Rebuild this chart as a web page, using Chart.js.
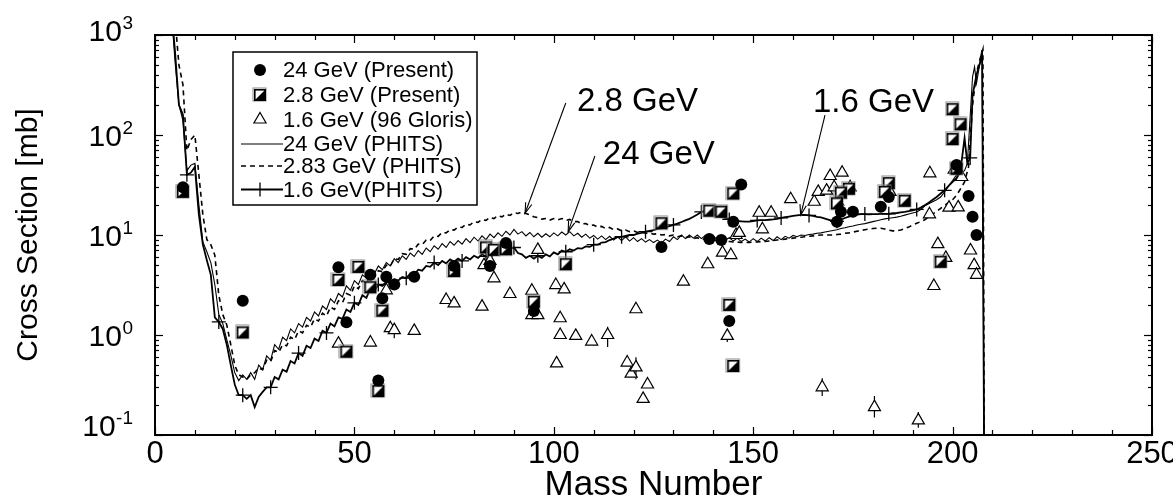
<!DOCTYPE html>
<html><head><meta charset="utf-8">
<script src="https://cdn.jsdelivr.net/npm/chart.js@4.4.1/dist/chart.umd.min.js"></script>
<style>html,body{margin:0;padding:0;background:#fff;}canvas{display:block;}</style>
</head><body>
<canvas id="c" width="1173" height="500"></canvas>
<script>
const FONT = "'Liberation Sans', Arial, Helvetica, sans-serif";

// ---- axis ticks ----
const xMajorTicks = [0, 50, 100, 150, 200, 250];
const xMinorStep = 10;
const yDecades = [0.1, 1, 10, 100, 1000];
const yExponents = ['-1', '0', '1', '2', '3'];

// ---- measured points: [mass number, cross section mb] ----
const present24 = [[7,30],[22,2.2],[46,4.75],[48,1.34],[54,4.0],[57,2.33],[56,0.35],[58,3.83],[60,3.2],[65,3.83],[75,4.9],[84,4.9],[88,8.3],[95,1.74],[127,7.6],[139,9.1],[142,8.9],[147,32],[145,13.6],[144,1.38],[172,17.1],[175,17.1],[171,13.6],[184,24],[182,19.2],[201,50],[204,24.5],[205,15.2],[206,10]];
const present28 = [[7,27],[22,1.06],[46,3.55],[51,4.8],[48,0.68],[54,3.0],[57,1.75],[56,0.275],[75,4.36],[83,7.5],[85,7.1],[88,7.2],[95,2.15],[103,5.1],[127,13.1],[139,17.5],[142,17.1],[145,26],[144,2.0],[145,0.49],[174,29],[172,26.5],[171,20.7],[184,33],[183,27],[188,22],[200,181],[202,128],[200,91],[201,46],[197,5.4]];
const gloris16 = [[46,0.82],[54,0.84],[58,2.8],[59,1.17],[60,1.12],[65,1.1],[73,2.24],[75,2.07],[82,1.92],[82.5,5.0],[84,5.5],[85,3.69],[89,2.57],[94.5,2.77],[94.5,1.58],[96,1.58],[96,7.1],[100.5,3.16],[102.6,2.86],[101.6,1.47],[101.6,1.0],[100.7,0.52],[105.5,0.98],[109.5,0.86],[113.5,1.0],[118.4,0.53],[119.4,0.41],[120.6,0.475],[120.6,1.81],[122.4,0.23],[123.5,0.32],[132.5,3.41],[138.6,5.1],[142.3,6.65],[144.4,6.3],[143.5,0.98],[145.7,10],[146.5,10.5],[151.5,16.7],[154.5,16.7],[152.3,11.4],[159.4,22.8],[165.3,21.5],[166.3,27],[168.4,27.8],[169.3,38.9],[172.3,42],[170.3,30],[171.2,21.5],[174.3,30],[184.3,27],[194.3,41.4],[194.2,16.1],[196.3,8.1],[198.3,5.9],[195.3,3.09],[199.1,18.8],[201.4,18.9],[200.4,45],[202.3,38],[204.5,7.0],[205.4,5.0],[206,4.0],[167.3,0.30],[180.4,0.19],[191.4,0.14]];
// error bars of the 1.6 GeV data: [mass, low, high]
const gloris16Err = [[60,0.93,1.26],[113.5,0.76,1.21],[120.6,0.36,0.6],[143.5,0.85,1.12],[167.3,0.245,0.37],[180.4,0.15,0.245],[191.4,0.118,0.17]];

// ---- PHITS calculations: [mass, cross section mb] ----
const phits24 = [[4,2000],[5,560],[6,200],[7,140],[8,44],[9,50],[10,52],[11,20],[12,8.5],[13,6.8],[14,5.3],[15,3.2],[16,1.6],[17,1.3],[18,0.9],[19,0.63],[20,0.42],[21,0.35],[22,0.4],[23,0.36],[24,0.42],[25,0.36],[26,0.5],[27,0.45],[28,0.62],[29,0.56],[30,0.8],[31,0.72],[32,0.95],[33,0.88],[34,1.15],[35,1.05],[36,1.3],[37,1.2],[38,1.5],[39,1.38],[40,1.7],[41,1.55],[42,1.95],[43,1.8],[44,2.3],[45,2.1],[46,2.6],[47,2.4],[48,3.1],[49,2.8],[50,3.5],[51,3.2],[52,4.0],[53,3.7],[54,4.5],[55,4.1],[56,4.9],[57,4.5],[58,5.3],[59,4.9],[60,5.8],[61,5.3],[62,6.2],[63,5.7],[64,6.6],[65,6.1],[66,7.0],[67,6.4],[68,7.4],[69,6.8],[70,7.8],[71,7.2],[72,8.2],[73,7.5],[74,8.6],[75,7.9],[76,8.8],[77,8.1],[78,9.2],[79,8.4],[80,9.5],[81,8.7],[82,9.8],[83,9.0],[84,10.2],[85,9.4],[86,10.5],[87,9.7],[88,10.9],[89,10.0],[90,11.4],[91,10.2],[92,10.8],[93,9.8],[94,10.6],[95,9.6],[96,10.4],[97,9.5],[98,10.3],[99,9.6],[100,10.5],[101,9.8],[102,10.7],[103,10.0],[104,10.8],[105,9.8],[106,10.4],[107,9.5],[108,10.2],[109,9.3],[110,9.9],[111,9.1],[112,9.8],[113,9.0],[114,9.7],[115,8.9],[116,9.6],[117,8.8],[118,9.6],[119,8.7],[120,9.4],[121,8.6],[122,9.2],[123,8.5],[124,9.0],[125,8.4],[126,8.9],[127,8.3],[128,9.1],[129,8.6],[130,9.6],[131,9.0],[132,10.0],[133,9.2],[134,10.0],[135,9.3],[136,10.0],[137,9.2],[138,9.9],[139,9.1],[140,9.8],[141,9.0],[142,9.6],[143,8.9],[144,9.4],[145,8.7],[146,9.3],[147,8.6],[148,9.1],[149,8.5],[150,9.2],[151,8.6],[152,9.3],[153,8.7],[154,9.4],[155,8.8],[156,9.6],[157,9.0],[158,9.7],[159,9.3],[160,9.9],[161,9.6],[162,10.0],[163,9.9],[164,10.1],[165,10.2],[166,10.4],[167,10.5],[168,10.7],[169,10.9],[170,11.1],[171,11.3],[172,11.6],[173,11.8],[174,12.1],[175,12.3],[176,12.6],[177,12.8],[178,13.0],[179,13.3],[180,13.6],[181,13.9],[182,14.2],[183,14.5],[184,14.7],[185,14.9],[186,15.1],[187,15.4],[188,15.8],[189,16.2],[190,16.6],[191,17.0],[192,18.0],[193,19.5],[194,20.5],[195,21.5],[196,22.5],[197,24],[198,27],[199,31],[200,35],[201,40],[202,42],[203,44],[203.7,52],[205,380],[205.5,480],[206,330],[207.4,708],[208,0.01]];
const phits283 = [[4,5000],[5,1500],[6,500],[7,320],[8,70],[9,90],[10,100],[11,40],[12,16],[13,9],[14,8],[15,6.3],[16,2.5],[17,1.6],[18,1.26],[19,0.8],[20,0.5],[21,0.4],[22,0.38],[23,0.36],[24,0.4],[25,0.42],[26,0.47],[27,0.45],[28,0.56],[29,0.54],[30,0.7],[31,0.67],[32,0.8],[33,0.78],[34,0.95],[35,0.9],[36,1.1],[37,1.05],[38,1.25],[39,1.2],[40,1.45],[41,1.38],[42,1.65],[43,1.55],[44,1.9],[45,1.8],[46,2.2],[47,2.1],[48,2.6],[49,2.5],[50,3.1],[51,2.9],[52,3.5],[53,3.3],[54,4.0],[55,3.8],[56,4.4],[57,4.3],[58,5.0],[59,4.9],[60,5.8],[61,5.7],[62,6.5],[63,6.4],[64,7.3],[65,7.2],[66,8.1],[67,8.0],[68,8.9],[69,8.8],[70,9.8],[71,9.7],[72,10.6],[73,10.5],[74,11.3],[75,11.2],[76,12.0],[77,11.9],[78,12.8],[79,12.6],[80,13.6],[81,13.4],[82,14.3],[83,14.0],[84,15.0],[85,14.6],[86,15.6],[87,15.2],[88,16.2],[89,15.7],[90,16.7],[91,16.4],[92,17.0],[93,16.4],[94,15.9],[95,15.2],[96,14.9],[97,14.4],[98,14.6],[99,14.1],[100,14.6],[101,14.2],[102,14.6],[103,14.0],[104,14.3],[105,13.6],[106,13.6],[107,12.9],[108,13.0],[109,12.4],[110,12.6],[111,12.0],[112,12.2],[113,11.6],[114,11.9],[115,11.3],[116,11.5],[117,11.0],[118,11.2],[119,10.8],[120,11.0],[121,10.6],[122,10.7],[123,10.4],[124,10.5],[125,10.2],[126,10.3],[127,10.0],[128,10.1],[129,9.8],[130,10.0],[131,9.6],[132,9.8],[133,9.4],[134,9.6],[135,9.2],[136,9.4],[137,9.0],[138,9.2],[139,8.8],[140,9.0],[141,8.7],[142,8.8],[143,8.6],[144,8.6],[145,8.5],[146,8.5],[147,8.4],[148,8.4],[149,8.4],[150,8.5],[151,8.5],[152,8.6],[153,8.6],[154,8.7],[155,8.8],[156,8.9],[157,9.0],[158,9.1],[159,9.2],[160,9.3],[161,9.4],[162,9.5],[163,9.6],[164,9.7],[165,9.8],[166,9.9],[167,10.0],[168,10.0],[169,10.0],[170,10.0],[171,10.1],[172,10.2],[173,10.4],[174,10.5],[175,10.7],[176,10.9],[177,11.1],[178,11.3],[179,11.5],[180,11.6],[181,11.7],[182,11.7],[183,11.5],[184,11.2],[185,11.0],[186,11.0],[187,11.2],[188,11.6],[189,12.0],[190,12.6],[191,13.1],[192,13.6],[193,14.2],[194,15.2],[195,16.2],[196,17.2],[197,18.5],[198,19.8],[199,21],[200,22.5],[201,25],[202,29],[203,34],[204,48],[205,200],[206,420],[207,600],[207.6,720],[208,0.01]];
const phits16 = [[4,2000],[5,700],[6,200],[7,160],[8,40],[9,42],[10,48],[11,16],[12,8],[13,5.6],[14,4.0],[15,1.5],[16,1.35],[17,1.15],[18,0.8],[19,0.5],[20,0.32],[21,0.25],[22,0.25],[23,0.23],[24,0.25],[25,0.19],[26,0.24],[27,0.27],[28,0.3],[29,0.3],[30,0.38],[31,0.36],[32,0.45],[33,0.43],[34,0.55],[35,0.52],[36,0.66],[37,0.62],[38,0.78],[39,0.74],[40,0.92],[41,0.87],[42,1.1],[43,1.05],[44,1.3],[45,1.22],[46,1.5],[47,1.45],[48,1.8],[49,1.7],[50,2.1],[51,2.0],[52,2.5],[53,2.35],[54,2.9],[55,2.75],[56,3.2],[57,3.1],[58,3.4],[59,3.3],[60,3.6],[61,3.5],[62,3.8],[63,3.7],[64,4.1],[65,4.0],[66,4.5],[67,4.4],[68,4.9],[69,4.8],[70,5.3],[71,5.0],[72,5.5],[73,5.2],[74,5.7],[75,5.4],[76,5.8],[77,5.5],[78,6.0],[79,5.7],[80,6.2],[81,5.9],[82,6.4],[83,6.1],[84,6.7],[85,6.4],[86,7.0],[87,6.8],[88,7.6],[89,7.2],[90,7.5],[91,6.6],[92,6.4],[93,5.9],[94,6.2],[95,5.8],[96,6.2],[97,5.9],[98,6.4],[99,6.1],[100,6.7],[101,6.4],[102,7.0],[103,6.8],[104,7.2],[105,7.0],[106,7.4],[107,7.3],[108,7.7],[109,7.6],[110,8.0],[111,8.0],[112,8.4],[113,8.5],[114,8.9],[115,9.2],[116,9.5],[117,9.6],[118,9.8],[119,10.0],[120,10.0],[121,10.3],[122,10.5],[123,10.8],[124,11.0],[125,11.2],[126,11.5],[127,11.7],[128,12.0],[129,12.3],[130,12.6],[131,13.0],[132,13.5],[133,14.0],[134,14.5],[135,15.2],[136,16.0],[137,17.0],[138,17.5],[139,16.8],[140,16.2],[141,15.6],[142,15.2],[143,14.8],[144,14.3],[145,14.0],[146,13.8],[147,13.7],[148,13.6],[149,13.6],[150,13.8],[151,14.0],[152,14.1],[153,14.1],[154,14.2],[155,14.3],[156,14.5],[157,14.8],[158,15.1],[159,15.3],[160,15.5],[161,15.7],[162,15.9],[163,15.9],[164,15.7],[165,15.5],[166,15.2],[167,15.0],[168,14.6],[169,14.2],[170,13.8],[171,13.7],[172,14.2],[173,14.8],[174,15.3],[175,15.8],[176,16.0],[177,16.2],[178,16.2],[179,16.1],[180,16.2],[181,16.2],[182,16.3],[183,16.3],[184,16.3],[185,16.5],[186,16.6],[187,16.8],[188,17.0],[189,17.3],[190,17.6],[191,18.0],[192,18.8],[193,19.8],[194,21.0],[195,22.5],[196,24.0],[197,26],[198,28],[199,31],[200,34],[201,37],[202,45],[203,93],[203.7,52],[204.4,59],[205,250],[206,400],[207,550],[207.4,700],[208,0.01]];
// mass numbers where the "+" symbols sit on the 1.6 GeV PHITS curve
const phits16Marks = [8,16,22,29,36,43,50,56,63,70,77,83,90,96,103,110,117,123,130,137,144,151,157,164,171,178,184,191,198,204.4];

// ---- annotations (data units) ----
const notes = [
  {text:'2.8 GeV', tx:105.8, ty:174, fx:103.0, fy:209, toX:92.8, toY:16.5},
  {text:'24 GeV',  tx:112.3, ty:51.3, fx:110.3, fy:61.7, toX:103.6, toY:10.8},
  {text:'1.6 GeV', tx:165.0, ty:171, fx:168.0, fy:158, toX:161.9, toY:15.8}
];
const legendLabels = ['24 GeV (Present)','2.8 GeV (Present)','1.6 GeV (96 Gloris)','24 GeV (PHITS)','2.83 GeV (PHITS)','1.6 GeV(PHITS)'];

// ---- marker images ----
function halfSquare(s){
  const c=document.createElement('canvas'); c.width=c.height=s+4;
  const g=c.getContext('2d'); const o=2;
  g.fillStyle='#fff'; g.fillRect(o,o,s,s);
  g.fillStyle='#000'; g.beginPath(); g.moveTo(o+s,o); g.lineTo(o+s,o+s); g.lineTo(o,o+s); g.closePath(); g.fill();
  g.strokeStyle='#888'; g.lineWidth=1; g.strokeRect(o-1,o-1,s+1,s+1);
  g.strokeStyle='#000'; g.lineWidth=1.6; g.strokeRect(o+0.8,o+0.8,s-1.6,s-1.6);
  return c;
}
const sqImg = halfSquare(12);

const pts = a => a.map(([x,y])=>({x,y}));
const errPts = [];
gloris16Err.forEach(([x,lo,hi])=>{ errPts.push({x,y:lo},{x,y:hi},{x,y:null}); });

Chart.defaults.font.family = FONT;
Chart.defaults.color = '#000';

const deco = {
  id:'deco',
  afterDraw(chart){
    const {ctx, chartArea:a, scales:{x,y}} = chart;
    ctx.save();
    ctx.strokeStyle='#000';
    ctx.lineWidth=1.2;
    const seg=(x0,y0,x1,y1)=>{ctx.beginPath();ctx.moveTo(x0,y0);ctx.lineTo(x1,y1);ctx.stroke();};
    for(let v=xMajorTicks[0]; v<=xMajorTicks[xMajorTicks.length-1]; v+=xMinorStep){
      const px=Math.round(x.getPixelForValue(v))+0.5;
      const L = xMajorTicks.includes(v)?8:5;
      seg(px,a.bottom,px,a.bottom-L); seg(px,a.top,px,a.top+L);
    }
    yDecades.forEach((d,i)=>{
      const py=Math.round(y.getPixelForValue(d))+0.5;
      seg(a.left,py,a.left+8,py); seg(a.right,py,a.right-8,py);
      if(i<yDecades.length-1){
        for(let m=2;m<=9;m++){
          const pm=Math.round(y.getPixelForValue(d*m))+0.5;
          seg(a.left,pm,a.left+4,pm); seg(a.right,pm,a.right-4,pm);
        }
      }
    });
    ctx.lineWidth=2;
    ctx.strokeRect(a.left,a.top,a.right-a.left,a.bottom-a.top);
    // y tick labels 10^n
    ctx.fillStyle='#000'; ctx.textBaseline='alphabetic'; ctx.textAlign='right';
    yDecades.forEach((d,i)=>{
      let yc=y.getPixelForValue(d);
      if(i===0) yc-=10; if(i===yDecades.length-1) yc-=5;
      const base=yc+10.7, right=133;
      ctx.font='19px '+FONT;
      const sw=ctx.measureText(yExponents[i]).width;
      ctx.fillText(yExponents[i], right, base-11.5);
      ctx.font='30px '+FONT;
      ctx.fillText('10', right-sw-0.5, base);
    });
    // legend
    const L0=a.left+78, T0=a.top+17, W=244, H=153;
    ctx.fillStyle='#fff'; ctx.fillRect(L0,T0,W,H);
    ctx.lineWidth=1.5; ctx.strokeStyle='#000'; ctx.strokeRect(L0,T0,W,H);
    const rows=[70,95,119.5,144,166,189.5].map(v=>v-35+a.top);
    const mx=a.left+105, tx=a.left+128;
    ctx.fillStyle='#000'; ctx.beginPath(); ctx.arc(mx,rows[0],6,0,Math.PI*2); ctx.fill();
    ctx.drawImage(sqImg, mx-sqImg.width/2, rows[1]-sqImg.height/2);
    ctx.lineWidth=1.2; ctx.fillStyle='#fff';
    ctx.beginPath(); ctx.moveTo(mx,rows[2]-7); ctx.lineTo(mx+6.06,rows[2]+3.5); ctx.lineTo(mx-6.06,rows[2]+3.5); ctx.closePath(); ctx.fill(); ctx.stroke();
    const lx0=a.left+86, lx1=a.left+128;
    ctx.lineWidth=1.2; seg(lx0,rows[3],lx1,rows[3]);
    ctx.lineWidth=1.6; ctx.setLineDash([5,4]); seg(lx0,rows[4],lx1,rows[4]); ctx.setLineDash([]);
    ctx.lineWidth=2; seg(lx0,rows[5],lx1,rows[5]);
    ctx.lineWidth=1.3; seg(mx,rows[5]-7,mx,rows[5]+7);
    ctx.fillStyle='#000'; ctx.textAlign='left'; ctx.textBaseline='middle'; ctx.font='22px '+FONT;
    legendLabels.forEach((t,i)=>ctx.fillText(t,tx,rows[i]+1));
    // annotations
    ctx.font='33px '+FONT; ctx.textBaseline='alphabetic'; ctx.textAlign='left'; ctx.lineWidth=1.1;
    notes.forEach(n=>{
      ctx.fillText(n.text, x.getPixelForValue(n.tx), y.getPixelForValue(n.ty));
      const x0=x.getPixelForValue(n.fx), y0=y.getPixelForValue(n.fy), x1=x.getPixelForValue(n.toX), y1=y.getPixelForValue(n.toY);
      seg(x0,y0,x1,y1);
      const ang=Math.atan2(y1-y0,x1-x0), Lh=11, w=0.3;
      ctx.beginPath(); ctx.moveTo(x1-Lh*Math.cos(ang-w), y1-Lh*Math.sin(ang-w)); ctx.lineTo(x1,y1);
      ctx.lineTo(x1-Lh*Math.cos(ang+w), y1-Lh*Math.sin(ang+w)); ctx.stroke();
    });
    ctx.restore();
  }
};

new Chart(document.getElementById('c'), {
  type:'scatter',
  data:{ datasets:[
    {label:'24 GeV (PHITS)', data:pts(phits24), showLine:true, borderColor:'#000', borderWidth:1.1, pointRadius:0, tension:0, order:5},
    {label:'2.83 GeV (PHITS)', data:pts(phits283), showLine:true, borderColor:'#000', borderWidth:1.6, borderDash:[5,4], pointRadius:0, tension:0, order:6},
    {label:'1.6 GeV(PHITS)', data:pts(phits16), showLine:true, borderColor:'#000', borderWidth:1.8, tension:0, order:4,
      pointStyle:'cross', pointBorderColor:'#000', pointBorderWidth:1.3,
      pointRadius: c => (c.raw && phits16Marks.includes(c.raw.x)) ? 7 : 0},
    {label:'err', data:errPts, showLine:true, spanGaps:false, borderColor:'#000', borderWidth:1.2, pointRadius:0, order:3},
    {label:'1.6 GeV (96 Gloris)', data:pts(gloris16), pointStyle:'triangle', pointRadius:7, backgroundColor:'#fff', borderColor:'#000', borderWidth:1.2, order:2},
    {label:'2.8 GeV (Present)', data:pts(present28), pointStyle:sqImg, pointRadius:6, order:1},
    {label:'24 GeV (Present)', data:pts(present24), pointStyle:'circle', pointRadius:6, backgroundColor:'#000', borderColor:'#000', borderWidth:0, order:0}
  ]},
  options:{
    responsive:false, animation:false, events:[],
    layout:{padding:{top:35,right:21,left:0,bottom:0}},
    plugins:{legend:{display:false}, tooltip:{enabled:false}},
    scales:{
      x:{type:'linear', min:0, max:250, position:'bottom',
        afterBuildTicks: s => { s.ticks = xMajorTicks.map(v=>({value:v})); },
        ticks:{font:{size:31}, color:'#000', padding:1, maxRotation:0, autoSkip:false},
        grid:{display:false, drawTicks:false}, border:{display:false},
        title:{display:true, text:'Mass Number', color:'#000', font:{size:35, lineHeight:0.86}, padding:{top:0,bottom:0}},
        afterFit: s => { s.height = 65; s.paddingLeft = 0; s.paddingRight = 0; }},
      y:{type:'logarithmic', min:0.1, max:1000, position:'left',
        ticks:{display:false}, grid:{display:false, drawTicks:false}, border:{display:false},
        title:{display:true, text:'Cross Section [mb]', color:'#000', font:{size:30}, padding:{top:10.5,bottom:0}},
        afterFit: s => { s.width = 155; s.paddingTop = 0; s.paddingBottom = 0; }}
    }
  },
  plugins:[deco]
});
</script>
</body></html>
